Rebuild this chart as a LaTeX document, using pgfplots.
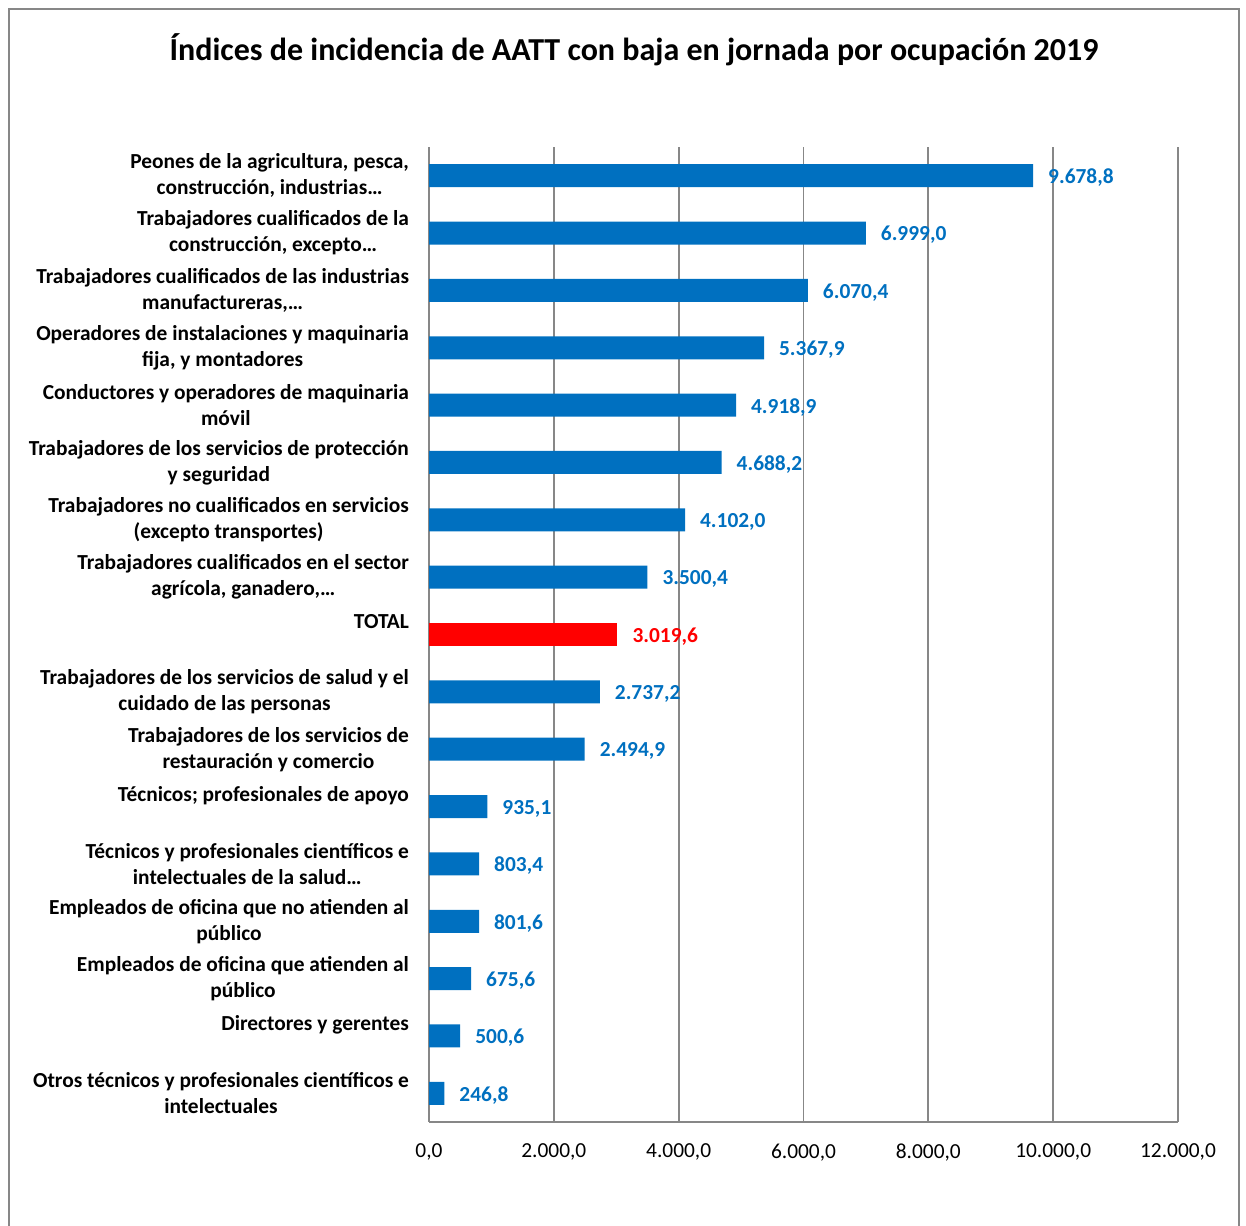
\documentclass[border=0pt]{standalone}
\usepackage{pgfplots}
\pgfplotsset{compat=1.18}
\usepackage{fontspec}
\setmainfont{Carlito}
\definecolor{barblue}{HTML}{0070C0}
\definecolor{gridgray}{HTML}{878787}
\begin{document}
\begin{tikzpicture}
\path[use as bounding box] (0pt,0pt) rectangle (623pt,-612.5pt);
\draw[gridgray, line width=0.9pt] (4.5pt,-4.5pt) rectangle (619.5pt,-660pt);
\node[font=\bfseries\fontsize{16}{19}\selectfont] at (317pt,-25pt) {Índices de incidencia de AATT con baja en jornada por ocupación 2019};
\begin{axis}[
  at={(214.5pt,-561pt)}, anchor=south west,
  scale only axis, width=374.5pt, height=487.5pt,
  xbar, bar width=11.5pt,
  xmin=0, xmax=12000, ymin=-0.5, ymax=16.5, y dir=reverse,
  xtick={0,2000,4000,6000,8000,10000,12000},
  ytick={0,...,16},
  axis x line*=bottom, axis y line*=left,
  axis line style={gridgray, line width=0.9pt},
  xmajorgrids, grid style={gridgray, line width=0.9pt},
  major tick length=0pt, tick style={draw=none},
  /pgf/number format/assume math mode=true,
  /pgf/number format/fixed, /pgf/number format/fixed zerofill,
  /pgf/number format/precision=1, /pgf/number format/use comma,
  /pgf/number format/1000 sep={.},
  scaled x ticks=false,
  xticklabel style={font=\fontsize{10.7}{12}\selectfont, yshift=-7.5pt},
  yticklabel style={font=\bfseries\fontsize{10.7}{13}\selectfont, align=center, xshift=-6.5pt},
  yticklabels={
    {Peones de la agricultura, pesca,\\construcción, industrias…},
    {Trabajadores cualificados de la\\construcción, excepto…},
    {Trabajadores cualificados de las industrias\\manufactureras,…},
    {Operadores de instalaciones y maquinaria\\fija, y montadores},
    {Conductores y operadores de maquinaria\\móvil},
    {Trabajadores de los servicios de protección\\y seguridad},
    {Trabajadores no cualificados en servicios\\(excepto transportes)},
    {Trabajadores cualificados en el sector\\agrícola, ganadero,…},
    {TOTAL\\\mbox{}},
    {Trabajadores de los servicios de salud y el\\cuidado de las personas},
    {Trabajadores de los servicios de\\restauración y comercio},
    {Técnicos; profesionales de apoyo\\\mbox{}},
    {Técnicos y profesionales científicos e\\intelectuales de la salud…},
    {Empleados de oficina que no atienden al\\público},
    {Empleados de oficina que atienden al\\público},
    {Directores y gerentes\\\mbox{}},
    {Otros técnicos y profesionales científicos e\\intelectuales}
  },
  nodes near coords,
  nodes near coords style={font=\bfseries\fontsize{10.7}{12}\selectfont, anchor=west, xshift=4pt, yshift=-1pt},
]
\addplot[draw=none, fill=barblue, bar shift=0pt, nodes near coords style={text=barblue}] coordinates {
  (9678.8,0) (6999.0,1) (6070.4,2) (5367.9,3) (4918.9,4) (4688.2,5) (4102.0,6) (3500.4,7)
  (2737.2,9) (2494.9,10) (935.1,11) (803.4,12) (801.6,13) (675.6,14) (500.6,15) (246.8,16)
};
\addplot[draw=none, fill=red, bar shift=0pt, nodes near coords style={text=red}] coordinates {
  (3019.6,8)
};
\end{axis}
\end{tikzpicture}
\end{document}
